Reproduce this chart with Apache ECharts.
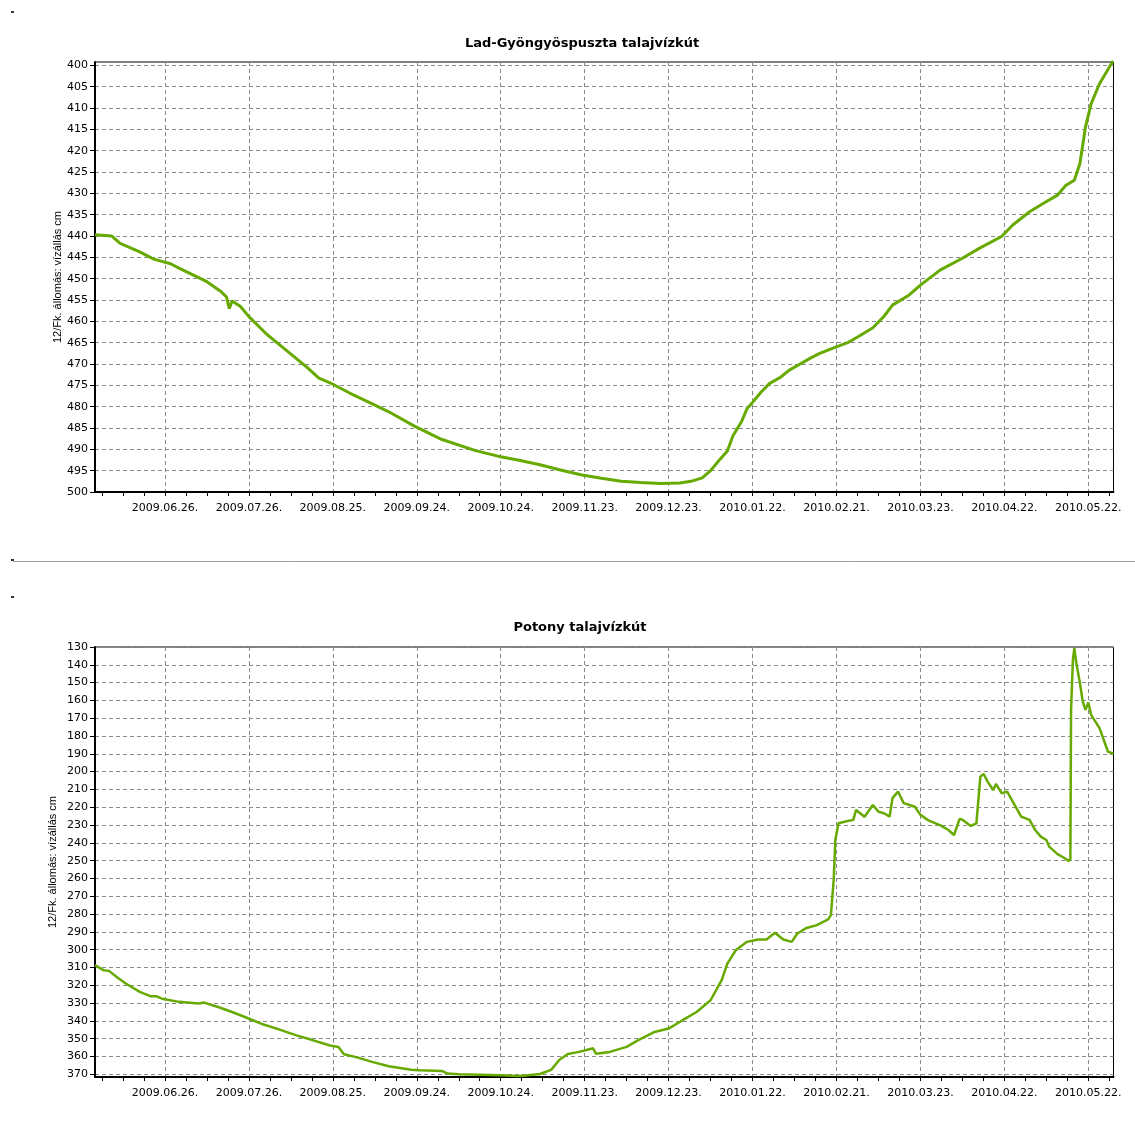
<!DOCTYPE html>
<html><head><meta charset="utf-8">
<script src="https://cdn.jsdelivr.net/npm/echarts@6/dist/echarts.min.js"></script>
<style>html,body{margin:0;padding:0;background:#fff}#c{width:1135px;height:1140px}</style>
</head><body><div id="c"></div>
<script>
const titleTop = 'Lad-Gyöngyöspuszta talajvízkút';
const titleBottom = 'Potony talajvízkút';
const yAxisName = '12/Fk. állomás: vízállás cm';
const xRange = ['2009-06-01', '2010-05-31'];
const xTickDates = ['2009-06-26','2009-07-26','2009-08-25','2009-09-24','2009-10-24','2009-11-23','2009-12-23','2010-01-22','2010-02-21','2010-03-23','2010-04-22','2010-05-22'];
const xTickLabels = ['2009.06.26.','2009.07.26.','2009.08.25.','2009.09.24.','2009.10.24.','2009.11.23.','2009.12.23.','2010.01.22.','2010.02.21.','2010.03.23.','2010.04.22.','2010.05.22.'];
const yTicksTop = [400,405,410,415,420,425,430,435,440,445,450,455,460,465,470,475,480,485,490,495,500];
const yTicksBottom = [130,140,150,160,170,180,190,200,210,220,230,240,250,260,270,280,290,300,310,320,330,340,350,360,370];

const ladDates = ['2009-06-01','2009-06-07','2009-06-10','2009-06-17','2009-06-22','2009-06-28','2009-07-01','2009-07-06','2009-07-11','2009-07-16','2009-07-18','2009-07-19','2009-07-20','2009-07-23','2009-07-26','2009-08-01','2009-08-06','2009-08-11','2009-08-16','2009-08-20','2009-08-24','2009-08-31','2009-09-07','2009-09-14','2009-09-23','2009-10-03','2009-10-15','2009-10-23','2009-10-31','2009-11-07','2009-11-14','2009-11-22','2009-11-29','2009-12-06','2009-12-13','2009-12-20','2009-12-27','2009-12-31','2010-01-04','2010-01-07','2010-01-10','2010-01-13','2010-01-15','2010-01-18','2010-01-20','2010-01-22','2010-01-25','2010-01-28','2010-02-01','2010-02-04','2010-02-08','2010-02-12','2010-02-15','2010-02-20','2010-02-25','2010-03-01','2010-03-06','2010-03-10','2010-03-13','2010-03-19','2010-03-23','2010-03-30','2010-04-07','2010-04-13','2010-04-21','2010-04-25','2010-05-01','2010-05-06','2010-05-11','2010-05-14','2010-05-17','2010-05-19','2010-05-21','2010-05-23','2010-05-26','2010-05-30 12:00','2010-05-31'];
const ladLevels = [439.7,440,441.7,443.7,445.4,446.5,447.5,449.1,450.7,453,454.3,457,455.2,456.5,458.9,462.8,465.5,468.2,470.9,473.3,474.4,476.8,479,481.2,484.5,487.7,490.3,491.6,492.6,493.6,494.8,496,496.8,497.5,497.8,498,497.9,497.5,496.7,495,492.6,490.4,486.8,483.6,480.5,479,476.6,474.6,473.1,471.5,470,468.5,467.5,466.2,465,463.5,461.5,458.8,456.2,453.8,451.5,448,445.2,442.9,440.1,437.4,434.3,432.3,430.4,428.1,426.9,423,414.4,409,404.3,399.3,399];

const potonyDates = ['2009-06-01','2009-06-04','2009-06-06','2009-06-09','2009-06-12','2009-06-17','2009-06-21','2009-06-23','2009-06-25','2009-07-01','2009-07-08','2009-07-10','2009-07-15','2009-07-20','2009-07-25','2009-07-31','2009-08-06','2009-08-12','2009-08-18','2009-08-24','2009-08-27','2009-08-29','2009-09-03','2009-09-08','2009-09-14','2009-09-22','2009-09-25','2009-10-03','2009-10-05','2009-10-09','2009-10-24','2009-10-30','2009-11-02','2009-11-07','2009-11-11','2009-11-14','2009-11-17','2009-11-21','2009-11-26','2009-11-27','2009-12-02','2009-12-08','2009-12-12','2009-12-18','2009-12-23','2009-12-28','2010-01-02','2010-01-07','2010-01-11','2010-01-13','2010-01-16','2010-01-20','2010-01-24','2010-01-27','2010-01-30','2010-02-02','2010-02-05','2010-02-07','2010-02-10','2010-02-14','2010-02-18','2010-02-19','2010-02-20','2010-02-20 14:00','2010-02-21 17:00','2010-02-25','2010-02-27','2010-02-28','2010-03-03','2010-03-06','2010-03-08','2010-03-10','2010-03-12','2010-03-13','2010-03-15','2010-03-17','2010-03-21','2010-03-23','2010-03-26','2010-03-30','2010-04-02','2010-04-04','2010-04-06','2010-04-07','2010-04-10','2010-04-12','2010-04-13 10:00','2010-04-14 14:00','2010-04-16','2010-04-18','2010-04-19','2010-04-21','2010-04-23','2010-04-24','2010-04-26','2010-04-28','2010-05-01','2010-05-03','2010-05-05','2010-05-07','2010-05-08','2010-05-11','2010-05-13','2010-05-15','2010-05-15 14:00','2010-05-15 20:00','2010-05-16 12:00','2010-05-17','2010-05-17 17:00','2010-05-19','2010-05-20','2010-05-21','2010-05-22','2010-05-23','2010-05-26','2010-05-27 12:00','2010-05-29','2010-05-31'];
const potonyLevels = [308.7,311.5,311.9,315.6,319,323.7,326.2,326.2,327.5,329.3,330.2,329.7,332.2,335,338.1,341.9,344.9,348.1,350.9,353.8,354.6,358.7,360.6,363,365.5,367.4,367.7,368.1,369.6,370,370.5,371,370.6,369.8,367.5,361.8,358.6,357.4,355.4,358.4,357.4,354.6,350.9,346.2,344.3,339.6,335,328.4,317,307.8,300.3,295.6,294.3,294.3,290.5,294.3,295.6,290.9,288,286.2,283,280.6,260.9,238.4,229,227.7,227.1,221.5,225.3,218.7,222.5,223.4,225.3,214.9,211.2,217.7,219.7,224.3,227.5,230,232.8,235.6,226.5,227,230.5,229,202.8,201.3,205.6,210.3,206.9,212.1,211.2,214,219.7,225.3,227.1,232.8,236.5,238.4,242.1,246.3,248.1,250.2,249,165,137.1,130.6,139,150.2,160.6,165.3,161.2,168.1,175.6,182.1,188.7,190];

function dayIndex(s) {
  const parts = s.split(' ');
  const [Y, M, D] = parts[0].split('-').map(Number);
  let h = 0, mi = 0;
  if (parts[1]) { [h, mi] = parts[1].split(':').map(Number); }
  return (Date.UTC(Y, M - 1, D, h, mi) - Date.UTC(2009, 5, 1)) / 86400000;
}
const xMin = dayIndex(xRange[0]);
const xMax = dayIndex(xRange[1]);
const majorTicks = xTickDates.map(dayIndex);
const minorTicks = [];
for (let v = majorTicks[0] - 22.5; v <= xMax; v += 7.5) minorTicks.push(v);
const labelMap = {};
majorTicks.forEach((v, i) => { labelMap[v] = xTickLabels[i]; });

const FONT = 'DejaVu Sans';
const dash = { color: '#8a8a8a', width: 1, type: [4, 3] };

function xAxes(gi) {
  return [{
    type: 'value', gridIndex: gi, min: xMin, max: xMax, position: 'bottom',
    axisLine: { show: true, onZero: false, lineStyle: { color: '#000', width: 2 } },
    axisTick: { show: true, customValues: majorTicks, length: 4, lineStyle: { color: '#000' } },
    axisLabel: { customValues: majorTicks, formatter: v => labelMap[v] || '', color: '#000', fontFamily: FONT, fontSize: 11, margin: 11 },
    splitLine: { show: true, lineStyle: dash }
  }, {
    type: 'value', gridIndex: gi, min: xMin, max: xMax, position: 'bottom', offset: 0,
    axisLine: { show: false },
    axisTick: { show: true, customValues: minorTicks, length: 4, lineStyle: { color: '#000' } },
    axisLabel: { show: false },
    splitLine: { show: false }
  }];
}
function yAxis(gi, min, max, ticks, gap) {
  return {
    type: 'value', gridIndex: gi, inverse: true, min: min, max: max,
    name: yAxisName, nameLocation: 'middle', nameGap: gap, nameRotate: 90, nameMoveOverlap: false,
    nameTextStyle: { color: '#000', fontFamily: 'Liberation Sans', fontSize: 11 },
    axisLine: { show: true, onZero: false, lineStyle: { color: '#000', width: 2 } },
    axisTick: { show: true, customValues: ticks, length: 5, lineStyle: { color: '#000' } },
    axisLabel: { customValues: ticks, color: '#000', fontFamily: FONT, fontSize: 11, margin: 7 },
    splitLine: { show: true, lineStyle: dash }
  };
}

const chart = echarts.init(document.getElementById('c'), null, { renderer: 'canvas' });
chart.setOption({
  animation: false,
  backgroundColor: '#fff',
  grid: [
    { left: 95, right: 21.5, top: 62, height: 430, show: true, borderColor: '#000', borderWidth: 1, backgroundColor: 'transparent' },
    { left: 95, right: 21.5, top: 647, height: 430, show: true, borderColor: '#000', borderWidth: 1, backgroundColor: 'transparent' }
  ],
  xAxis: [...xAxes(0), ...xAxes(1)],
  yAxis: [yAxis(0, 399.2, 500, yTicksTop, 32), yAxis(1, 130, 371.5, yTicksBottom, 37)],
  graphic: [
    { type: 'text', x: 582, y: 44, style: { text: titleTop, font: 'bold 13px "DejaVu Sans"', fill: '#000', textAlign: 'center', textVerticalAlign: 'middle' } },
    { type: 'text', x: 580, y: 628, style: { text: titleBottom, font: 'bold 13px "DejaVu Sans"', fill: '#000', textAlign: 'center', textVerticalAlign: 'middle' } },
    { type: 'line', shape: { x1: 13, y1: 561.5, x2: 1135, y2: 561.5 }, style: { stroke: '#a0a0a0', lineWidth: 1 } },
    { type: 'rect', shape: { x: 11, y: 11, width: 3, height: 2 }, style: { fill: '#333' } },
    { type: 'rect', shape: { x: 11, y: 559, width: 3, height: 2 }, style: { fill: '#333' } },
    { type: 'rect', shape: { x: 11, y: 596, width: 3, height: 2 }, style: { fill: '#333' } }
  ],
  series: [
    { type: 'line', xAxisIndex: 0, yAxisIndex: 0, showSymbol: false, symbol: 'none',
      data: ladDates.map((d, i) => [dayIndex(d), ladLevels[i]]),
      lineStyle: { color: '#66aa00', width: 3 } },
    { type: 'line', xAxisIndex: 2, yAxisIndex: 1, showSymbol: false, symbol: 'none',
      data: potonyDates.map((d, i) => [dayIndex(d), potonyLevels[i]]),
      lineStyle: { color: '#66aa00', width: 2.5 } }
  ]
});
</script></body></html>
